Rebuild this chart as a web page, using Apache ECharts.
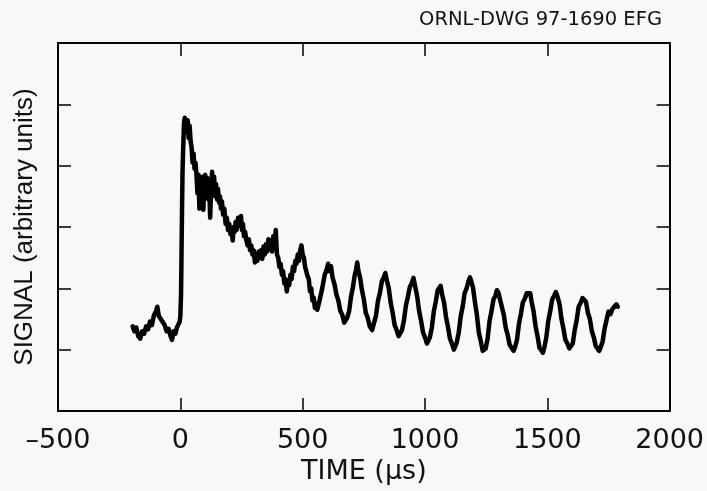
<!DOCTYPE html>
<html>
<head>
<meta charset="utf-8">
<script src="https://cdn.jsdelivr.net/npm/echarts@6/dist/echarts.min.js"></script>
<style>html,body{margin:0;padding:0;background:#f8f8f8;}#chart{width:707px;height:491px;}</style>
</head>
<body>
<div id="chart"></div>
<script>
// Time axis values (µs)
const times = [
-195,-188,-180,-172,-164,-156,-148,-140,-132,-124,-116,-108,-100,-94,-88,-80,-72,-64,-56,-48,-40,-34,-28,-20,-14,-8,-3,0,
3,5,7,9,11,13,15,18,22,26,30,34,38,42,46,50,54,58,62,66,
70,74,78,82,86,90,94,98,102,106,110,114,118,122,126,130,134,138,142,146,150,154,158,162,166,170,175,180,185,190,195,200,205,210,214,218,222,226,230,236,242,248,252,256,260,265,270,275,280,285,290,295,300,305,310,315,320,325,330,335,340,345,350,355,360,365,370,375,380,385,390,395,400,405,410,415,420,425,430,435,440,445,450,455,460,465,470,475,480,485,490,495,500,505,510,515,520,525,530,535,540,545,550,555,560,
570,580,590,598,604,610,616,622,630,638,646,654,662,670,676,682,690,698,706,712,718,723,728,735,742,750,758,766,774,784,792,800,808,816,824,832,838,844,852,860,868,876,884,892,899,906,914,922,930,938,946,953,960,968,976,984,992,1000,1008,1014,1020,1028,1036,1044,1052,1058,1064,1070,1078,1086,1094,1102,1110,1118,1124,1130,1138,1146,1154,1162,1170,1178,1184,1190,1196,1204,1212,1220,1228,1236,1242,1248,1256,1264,1272,1280,1288,1294,1300,1306,1314,1322,1330,1338,1346,1354,1362,1368,1376,1384,1392,1400,1408,1416,1424,1430,1436,1444,1452,1460,1468,1476,1482,1488,1496,1504,1512,1520,1528,1535,1542,1550,1558,1566,1574,1582,1590,1596,1604,1612,1620,1628,1636,1644,1651,1658,1666,1674,1682,1690,1698,1706,1712,1718,1726,1734,1742,1750,1758,1766,1774,1782,1788
];
// Signal (arbitrary units), y axis 0..6
const signal = [
1.38,1.30,1.36,1.22,1.18,1.30,1.26,1.38,1.33,1.46,1.40,1.56,1.62,1.70,1.55,1.58,1.45,1.40,1.30,1.34,1.22,1.16,1.30,1.26,1.36,1.34,1.45,1.55,
1.90,2.60,3.30,3.90,4.20,4.45,4.70,4.78,4.75,4.55,4.74,4.45,4.65,4.40,4.30,4.05,4.20,3.95,4.05,3.85,
3.55,3.85,3.30,3.75,3.60,3.82,3.28,3.70,3.85,3.55,3.80,3.45,3.70,3.15,3.65,3.90,3.55,3.82,3.50,3.70,3.45,3.62,3.40,3.50,3.30,3.42,3.20,3.30,3.05,3.15,2.95,3.05,2.88,2.98,2.78,3.00,2.92,3.08,2.95,3.15,3.02,3.18,2.95,3.05,2.85,2.92,2.78,2.70,2.80,2.62,2.70,2.55,2.62,2.42,2.52,2.45,2.60,2.50,2.62,2.48,2.68,2.55,2.72,2.60,2.80,2.65,2.78,2.60,2.85,2.65,2.95,2.55,2.50,2.35,2.40,2.22,2.28,2.08,2.15,1.95,2.10,2.05,2.22,2.15,2.35,2.28,2.45,2.40,2.55,2.45,2.62,2.70,2.55,2.50,2.35,2.38,2.20,2.15,1.95,2.00,1.80,1.85,1.68,1.75,1.65,
1.82,2.00,2.22,2.30,2.40,2.28,2.36,2.18,2.07,1.90,1.80,1.63,1.57,1.44,1.42,1.52,1.63,1.87,2.03,2.20,2.30,2.42,2.28,2.17,1.98,1.82,1.60,1.52,1.38,1.32,1.44,1.56,1.80,1.93,2.12,2.18,2.25,2.13,2.00,1.76,1.60,1.40,1.32,1.22,1.20,1.32,1.48,1.72,1.86,2.02,2.08,2.17,2.03,1.87,1.63,1.47,1.28,1.20,1.10,1.10,1.20,1.36,1.62,1.78,1.97,2.00,2.04,1.90,1.77,1.53,1.37,1.18,1.10,1.00,1.00,1.12,1.28,1.54,1.70,1.92,2.00,2.12,2.18,2.10,2.02,1.78,1.57,1.28,1.14,0.98,0.95,1.02,1.18,1.47,1.63,1.82,1.88,1.97,1.93,1.90,1.70,1.57,1.36,1.24,1.08,1.06,0.98,1.04,1.16,1.42,1.58,1.77,1.83,1.92,1.90,1.92,1.78,1.62,1.38,1.22,1.03,0.99,0.95,1.04,1.20,1.47,1.63,1.82,1.88,1.94,1.86,1.74,1.50,1.34,1.16,1.10,1.02,1.05,1.10,1.32,1.48,1.70,1.76,1.84,1.84,1.78,1.60,1.50,1.30,1.20,1.06,1.04,0.98,1.04,1.13,1.34,1.48,1.62,1.58,1.66,1.70,1.74,1.70
];
const xTicks = {min: -500, max: 2000, interval: 500};
const yRange = {min: 0, max: 6, interval: 1};

const chart = echarts.init(document.getElementById('chart'));
const axisLine = {show: true, onZero: false, lineStyle: {color: '#000', width: 2}};
const tick = {show: true, inside: true, length: 13, lineStyle: {color: '#000', width: 1.5}};
chart.setOption({
  animation: false,
  backgroundColor: '#f8f8f8',
  title: {
    text: 'ORNL-DWG 97-1690 EFG', right: 40, top: 5,
    textStyle: {fontFamily: 'DejaVu Sans', fontSize: 19.5, fontWeight: 'normal', color: '#111'}
  },
  grid: {left: 58, right: 35, top: 43, bottom: 80},
  xAxis: [{
    type: 'value', min: xTicks.min, max: xTicks.max, interval: xTicks.interval,
    axisLine: axisLine, axisTick: tick, splitLine: {show: false},
    axisLabel: {margin: 16, color: '#111', fontFamily: 'DejaVu Sans', fontSize: 27,
      formatter: v => v < 0 ? '\u2013' + Math.abs(v) : String(v)},
    name: 'TIME (\u00b5s)', nameLocation: 'middle', nameGap: 47,
    nameTextStyle: {color: '#111', fontFamily: 'DejaVu Sans', fontSize: 27}
  }, {
    type: 'value', position: 'top', min: xTicks.min, max: xTicks.max, interval: xTicks.interval,
    axisLine: axisLine, axisTick: tick, axisLabel: {show: false}, splitLine: {show: false}
  }],
  yAxis: [{
    type: 'value', min: yRange.min, max: yRange.max, interval: yRange.interval,
    axisLine: axisLine, axisTick: tick, axisLabel: {show: false}, splitLine: {show: false},
    name: 'SIGNAL (arbitrary units)', nameLocation: 'middle', nameGap: 20,
    nameTextStyle: {color: '#111', fontFamily: 'Liberation Sans', fontSize: 26}
  }, {
    type: 'value', position: 'right', min: yRange.min, max: yRange.max, interval: yRange.interval,
    axisLine: axisLine, axisTick: tick, axisLabel: {show: false}, splitLine: {show: false}
  }],
  series: [{
    type: 'line', xAxisIndex: 0, yAxisIndex: 0,
    data: times.map((t, i) => [t, signal[i]]),
    showSymbol: false, lineStyle: {color: '#000', width: 4.5, join: 'round', cap: 'round'}
  }]
});
</script>
</body>
</html>
